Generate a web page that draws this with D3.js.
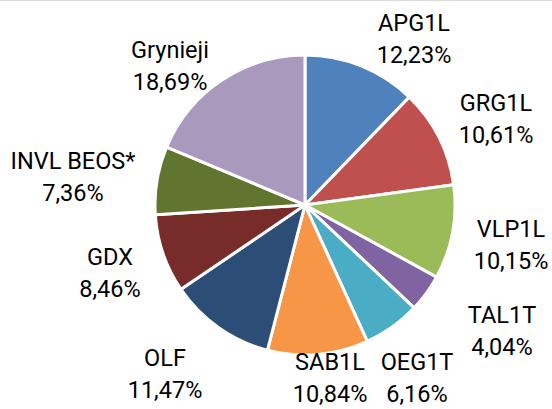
<!DOCTYPE html>
<html>
<head>
<meta charset="utf-8">
<script src="https://cdn.jsdelivr.net/npm/d3@7"></script>
<style>
  body { margin: 0; background: #fff; }
  svg { display: block; }
</style>
</head>
<body>
<div id="chart"></div>
<script>
const width = 552;
const height = 409;

// data (shares in %)
const names = ["APG1L", "GRG1L", "VLP1L", "TAL1T", "OEG1T", "SAB1L", "OLF", "GDX", "INVL BEOS*", "Grynieji"];
const shares = [12.23, 10.61, 10.15, 4.04, 6.16, 10.84, 11.47, 8.46, 7.36, 18.69];
const colors = ["#4F81BD", "#C0504D", "#9BBB59", "#8064A2", "#4BACC6", "#F79646",
                "#2C4D75", "#772C2A", "#5F7530", "#A99ABD"];

// where each label sits: [centre x, baseline of first line]
const labelPos = [[414, 31], [496, 111], [511, 237], [502, 323], [417, 370],
                  [330, 370], [165, 366], [110, 265], [73, 169], [170, 58]];

const cx = 305, cy = 205, radius = 150;

let color = d3.scaleOrdinal()
  .domain(names)
  .range(colors);

let pie = d3.pie()
  .sort(null)
  .value(d => d.value);

let arc = d3.arc()
  .innerRadius(0)
  .outerRadius(radius);

const data = names.map((n, i) => ({ name: n, value: shares[i], pos: labelPos[i] }));
const fmt = v => v.toFixed(2).replace(".", ",") + "%";

const svg = d3.select("#chart")
  .append("svg")
  .attr("width", width)
  .attr("height", height);

// thin frame line at the top
svg.append("line")
  .attr("x1", 0).attr("x2", width)
  .attr("y1", 0.5).attr("y2", 0.5)
  .attr("stroke", "#d9d9d9");

const g = svg.append("g")
  .attr("transform", `translate(${cx},${cy})`);

g.selectAll("path")
  .data(pie(data)).enter()
  .append("path")
  .attr("d", arc)
  .attr("fill", d => color(d.data.name))
  .attr("stroke", "#fff")
  .attr("stroke-width", 3)
  .attr("stroke-linejoin", "round");

const labels = svg.selectAll("text.lab")
  .data(data).enter()
  .append("text")
  .attr("class", "lab")
  .attr("text-anchor", "middle")
  .attr("font-family", "Roboto, 'Open Sans', sans-serif")
  .attr("font-size", 23.5)
  .attr("fill", "#000")
  .attr("transform", d => `translate(${d.pos[0]},${d.pos[1]})`);

labels.append("tspan")
  .attr("x", 0)
  .text(d => d.name);

labels.append("tspan")
  .attr("x", 0)
  .attr("dy", 31.5)
  .text(d => fmt(d.value));
</script>
</body>
</html>
